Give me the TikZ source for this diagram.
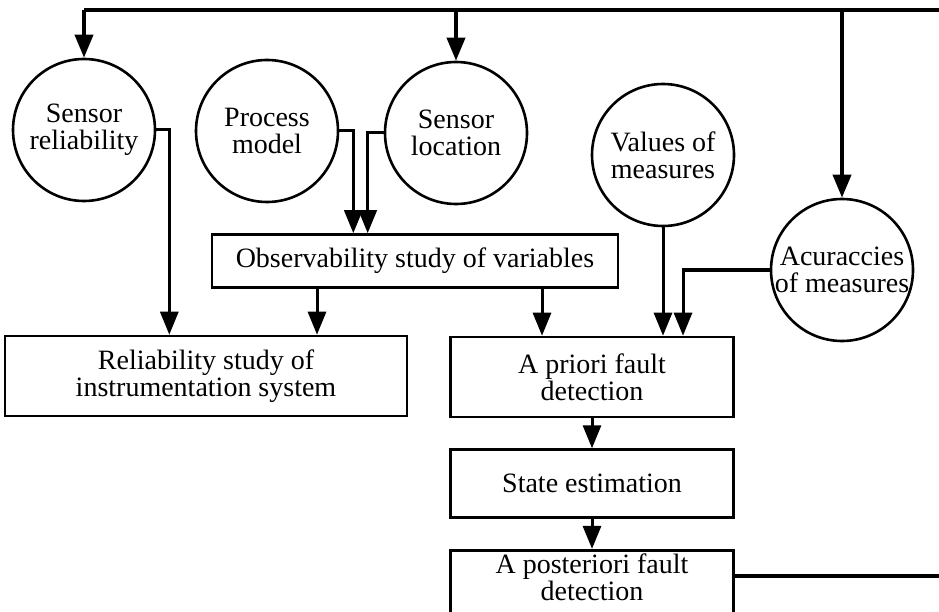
\documentclass[tikz,border=0pt]{standalone}
\usepackage{fontspec}
\setmainfont{Liberation Serif}
\usetikzlibrary{arrows.meta,positioning}

\begin{document}
\begin{tikzpicture}[
  x=1pt, y=-1pt,
  font=\fontsize{28}{27}\selectfont,
  node distance=30pt and 40pt,
  round/.style={draw, circle, line width=2.6pt, minimum size=142pt, inner sep=0pt, align=center},
  box/.style={draw, line width=2.6pt, align=center, minimum height=80pt},
  arrow/.style={-{Triangle[length=23pt, width=18pt]}, line width=3pt},
  feed/.style={line width=3.8pt}
]
\useasboundingbox (0,0) rectangle (939,612);
\clip (0,0) rectangle (939,612);

\node[round] (sensrel) at (84,130) {Sensor\\reliability};
\node[round] (procmod) at (267,131) {Process\\model};
\node[round] (sensloc) at (456,133) {Sensor\\location};
\node[round] (values) at (663,155) {Values of\\measures};
\node[round] (accur) at (842,270) {Acuraccies\\of measures};

\node[box, minimum width=406pt, minimum height=53pt] (observ) at (415,261) {Observability study of variables};
\node[box, minimum width=402pt] (relstudy) at (206,376) {Reliability study of\\instrumentation system};
\node[box, minimum width=283pt] (apriori) at (592,377) {A priori fault\\detection};
\node[box, minimum width=283pt, minimum height=68pt, below=of apriori] (state) {State estimation};
\node[box, minimum width=283pt, text depth=48pt, below=of state] (aposteriori) {A posteriori fault\\detection};

% feedback loop, runs off the right edge
\coordinate (retright) at (950,576);
\coordinate (topright) at (950,10);
\draw[feed] (aposteriori.east |- retright) -- (retright) -- (topright) -- (sensrel.north |- topright);
\draw[arrow, feed] (sensrel.north |- topright) -- (sensrel.north);
\draw[arrow, feed] (sensloc.north |- topright) -- (sensloc.north);
\draw[arrow, feed] (accur.north |- topright) -- (accur.north);

\draw[arrow] (sensrel.east) -| ([xshift=13pt]sensrel.east |- relstudy.north);
\draw[arrow] (procmod.east) -| ([xshift=14pt]procmod.east |- observ.north);
\draw[arrow] (sensloc.west) -| ([xshift=-16pt]sensloc.west |- observ.north);
\draw[arrow] ([xshift=-98pt]observ.south) -- ([xshift=-98pt]observ.south |- relstudy.north);
\draw[arrow] ([xshift=127pt]observ.south) -- ([xshift=127pt]observ.south |- apriori.north);
\draw[arrow] (values.south) -- (values.south |- apriori.north);
\draw[arrow] (accur.west) -| ([xshift=91pt]apriori.north);
\draw[arrow] (apriori) -- (state);
\draw[arrow] (state) -- (aposteriori);
\end{tikzpicture}
\end{document}
